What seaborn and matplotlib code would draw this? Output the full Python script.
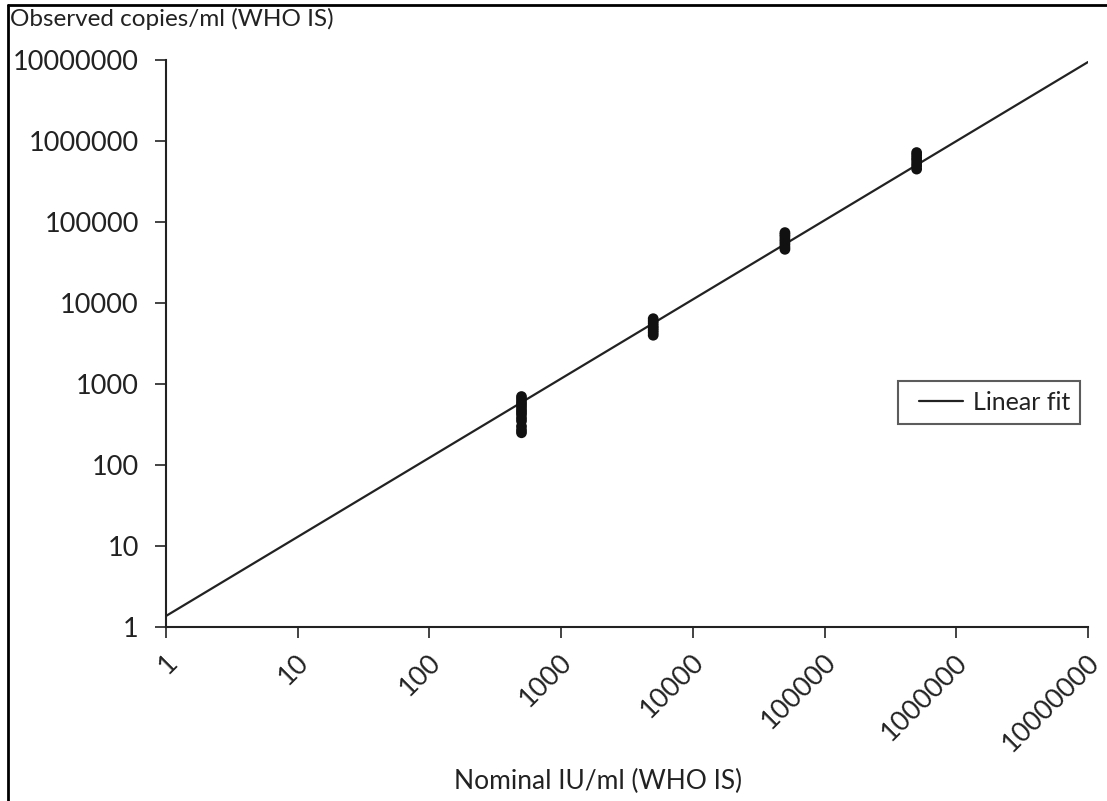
import numpy as np
import pandas as pd
import matplotlib
matplotlib.use("Agg")
import matplotlib.pyplot as plt
import matplotlib.transforms as mtransforms
from matplotlib.lines import Line2D
from matplotlib.legend_handler import HandlerLine2D
import seaborn as sns

# ---- data ----
nominal_500 = [250, 270, 300, 350, 380, 420, 450, 480, 520, 560, 600, 650, 700]
nominal_5000 = [4000, 4300, 4600, 4900, 5200, 5600, 6000, 6400]
nominal_50000 = [46000, 49000, 53000, 57000, 61000, 66000, 70000, 74000]
nominal_500000 = [450000, 490000, 530000, 580000, 620000, 670000, 720000]
nominal_levels = [500, 5000, 50000, 500000]

fit_slope = 0.977          # log10-log10 linear fit
fit_intercept = 0.136
fit_x_range = [1, 10000000]

tick_values = [1, 10, 100, 1000, 10000, 100000, 1000000, 10000000]
tick_labels = ["1", "10", "100", "1000", "10000", "100000", "1000000", "10000000"]

y_title = "Observed copies/ml (WHO IS)"
x_title = "Nominal IU/ml (WHO IS)"
legend_label = "Linear fit"

# ---- build tables ----
obs = [nominal_500, nominal_5000, nominal_50000, nominal_500000]
points = pd.DataFrame({
    "nominal": np.concatenate([[lv] * len(v) for lv, v in zip(nominal_levels, obs)]),
    "observed": np.concatenate(obs),
})
fx = np.array(fit_x_range, dtype=float)
fit = pd.DataFrame({"nominal": fx,
                    "observed": 10 ** (fit_intercept + fit_slope * np.log10(fx))})

sns.set_theme(style="white")
plt.rcParams["font.family"] = ["Lato", "DejaVu Sans"]

fig = plt.figure(figsize=(11.07, 8.01), dpi=100)
ax = fig.add_axes([166 / 1107, 1 - 627 / 801, (1088 - 166) / 1107, (627 - 60) / 801])

sns.lineplot(data=fit, x="nominal", y="observed", ax=ax, color="#222222",
             linewidth=1.6, label=legend_label)
sns.scatterplot(data=points, x="nominal", y="observed", ax=ax, color="#111111",
                s=60, edgecolor="none", zorder=3, legend=False)

ax.set_xscale("log")
ax.set_yscale("log")
ax.set_xlim(1, 10000000)
ax.set_ylim(1, 10000000)
ax.set_xticks(tick_values)
ax.set_yticks(tick_values)
ax.minorticks_off()
ax.set_xlabel("")
ax.set_ylabel("")
for side in ["top", "right"]:
    ax.spines[side].set_visible(False)
for side in ["left", "bottom"]:
    ax.spines[side].set_color("#222222")
    ax.spines[side].set_linewidth(1.5)
ax.tick_params(axis="both", which="major", direction="out", length=8, width=1.2,
               color="#222222", left=True, bottom=True)
ax.tick_params(axis="x", pad=9)
ax.tick_params(axis="y", pad=11.5)

ax.set_yticklabels(tick_labels, fontsize=19.5, color="#222222")
ax.set_xticklabels(tick_labels, fontsize=19.5, color="#222222", rotation=45,
                   ha="right", va="top")
offset = mtransforms.ScaledTranslation(16 / 100, 1 / 100, fig.dpi_scale_trans)
for tick in ax.xaxis.get_major_ticks():
    tick.label1.set_transform(tick.label1.get_transform() + offset)

leg = ax.legend(loc="upper left", bbox_to_anchor=((898 - 166) / 922, 1 - (381 - 60) / 567),
                frameon=True, fancybox=False, fontsize=18, handlelength=2.2,
                handletextpad=0.4, borderpad=0.4, borderaxespad=0,
                handler_map={Line2D: HandlerLine2D(xpad=0.45)})
leg.get_frame().set_edgecolor("#333333")
leg.get_frame().set_linewidth(1.5)
for t in leg.get_texts():
    t.set_color("#222222")

fig.text(10 / 1107, 1 - 19 / 801, y_title, fontsize=17.5, color="#222222",
         ha="left", va="center")
fig.text(598 / 1107, 1 - 781 / 801, x_title, fontsize=19, color="#222222",
         ha="center", va="center")

# page frame
fig.add_artist(Line2D([8 / 1107, 8 / 1107], [0, 1 - 5 / 801], transform=fig.transFigure,
                      color="black", linewidth=2))
fig.add_artist(Line2D([8 / 1107, 1], [1 - 5 / 801, 1 - 5 / 801], transform=fig.transFigure,
                      color="black", linewidth=2))

fig.savefig("out.png", dpi=100)
